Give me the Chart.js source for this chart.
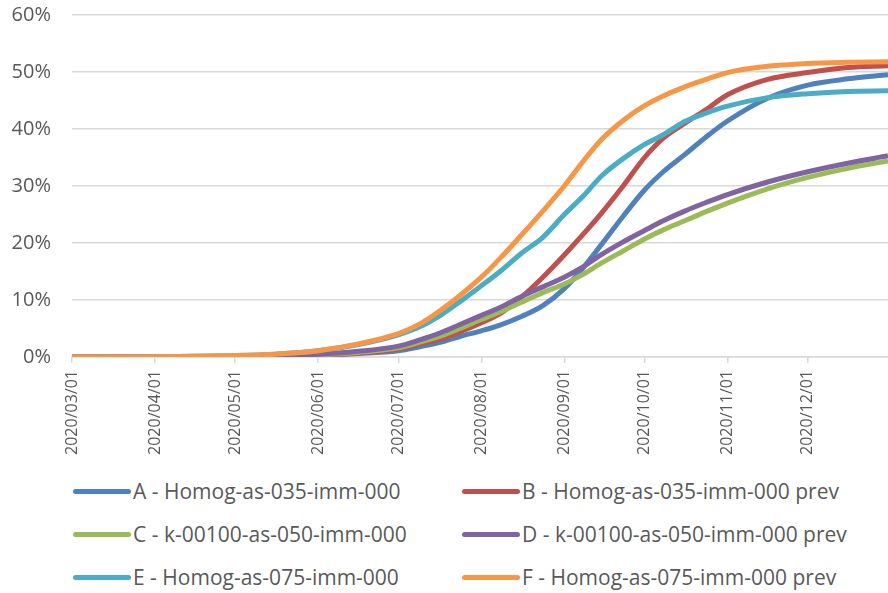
<!DOCTYPE html>
<html>
<head>
<meta charset="utf-8">
<script src="https://cdn.jsdelivr.net/npm/chart.js@4"></script>
<style>
  html, body { margin: 0; padding: 0; background: #fff; }
  body { width: 888px; height: 593px; overflow: hidden; font-family: "Open Sans", sans-serif; }
  #wrap { position: relative; width: 888px; height: 465px; }
  #inner { position: absolute; left: 0; top: -18px; width: 888px; height: 483px; }
  #legend { position: relative; width: 888px; height: 128px; }
  .item { position: absolute; display: flex; align-items: center; font-size: 21px; color: #595959; white-space: nowrap; }
  .swatch { width: 58px; height: 5px; border-radius: 3px; margin-right: 2px; }
</style>
</head>
<body>
<div id="wrap"><div id="inner"><canvas id="chart"></canvas></div></div>
<div id="legend"></div>
<script>
// days since 2020/03/01
const days = [0, 31, 61, 76, 92, 107, 122, 130, 138, 145, 153, 160, 168, 176, 184, 191, 198, 206, 214, 221, 229, 237, 245, 260, 275, 290, 305];

const seriesA = [0, 0, 0.05, 0.1, 0.3, 0.6, 1.1, 1.8, 2.6, 3.6, 4.6, 5.6, 7.1, 9.0, 12.0, 15.6, 19.8, 24.7, 29.3, 32.5, 35.5, 38.6, 41.4, 45.4, 47.7, 48.8, 49.5];
const seriesB = [0, 0, 0.05, 0.1, 0.3, 0.7, 1.4, 2.3, 3.2, 4.4, 6.0, 7.6, 10.5, 14.0, 17.9, 21.5, 25.3, 30.0, 35.0, 38.4, 41.0, 43.4, 46.0, 48.7, 49.9, 50.8, 51.1];
const seriesC = [0, 0, 0.05, 0.15, 0.35, 0.8, 1.6, 2.6, 3.7, 5.0, 6.6, 7.9, 9.6, 11.3, 12.8, 14.5, 16.5, 18.6, 20.7, 22.3, 23.9, 25.5, 27.0, 29.5, 31.5, 33.1, 34.4];
const seriesD = [0, 0, 0.1, 0.2, 0.5, 1.0, 1.9, 3.0, 4.3, 5.7, 7.3, 8.7, 10.6, 12.3, 14.0, 15.8, 18.0, 20.2, 22.2, 23.9, 25.6, 27.1, 28.5, 30.7, 32.5, 34.0, 35.3];
const seriesE = [0, 0.05, 0.25, 0.5, 1.1, 2.2, 3.9, 5.3, 7.4, 9.7, 12.5, 15.0, 18.2, 21.0, 25.0, 28.2, 31.8, 34.8, 37.3, 39.0, 41.3, 42.8, 44.0, 45.5, 46.2, 46.6, 46.7];
const seriesF = [0, 0.05, 0.25, 0.5, 1.1, 2.3, 4.1, 5.8, 8.3, 10.8, 14.0, 17.3, 21.4, 25.6, 30.0, 34.3, 38.2, 41.5, 44.1, 45.8, 47.4, 48.7, 49.9, 51.0, 51.5, 51.7, 51.8];

const names = [
  "A - Homog-as-035-imm-000",
  "B - Homog-as-035-imm-000 prev",
  "C - k-00100-as-050-imm-000",
  "D - k-00100-as-050-imm-000 prev",
  "E - Homog-as-075-imm-000",
  "F - Homog-as-075-imm-000 prev"
];
const colors = ["#4F81BD", "#C0504D", "#9BBB59", "#8064A2", "#4BACC6", "#F79646"];

// month starts (days since 2020/03/01) and their labels
const tickDays = [0, 31, 61, 92, 122, 153, 184, 214, 245, 275];
const tickLabels = ["2020/03/01", "2020/04/01", "2020/05/01", "2020/06/01", "2020/07/01",
  "2020/08/01", "2020/09/01", "2020/10/01", "2020/11/01", "2020/12/01"];
const yTicks = [0, 10, 20, 30, 40, 50, 60];

const allSeries = [seriesA, seriesB, seriesC, seriesD, seriesE, seriesF];

const datasets = allSeries.map((vals, i) => ({
  label: names[i],
  data: vals.map((v, j) => ({ x: days[j], y: v })),
  borderColor: colors[i],
  backgroundColor: colors[i],
  borderWidth: 5,
  pointRadius: 0,
  cubicInterpolationMode: "monotone",
  order: allSeries.length - i
}));

const gray = "#595959";
const gridGray = "#d9d9d9";

new Chart(document.getElementById("chart"), {
  type: "line",
  data: { datasets },
  options: {
    responsive: true,
    maintainAspectRatio: false,
    animation: false,
    plugins: {
      legend: { display: false },
      tooltip: { enabled: false }
    },
    scales: {
      x: {
        type: "linear",
        min: 0,
        max: 305,
        afterBuildTicks: (scale) => {
          scale.ticks = tickDays.map((d) => ({ value: d }));
        },
        afterFit: (scale) => { scale.height = 108; },
        ticks: {
          autoSkip: false,
          minRotation: 90,
          maxRotation: 90,
          padding: 7,
          color: gray,
          font: { family: "Open Sans", size: 16 },
          callback: (v) => tickLabels[tickDays.indexOf(v)]
        },
        grid: {
          drawOnChartArea: false,
          drawTicks: true,
          tickLength: 6,
          color: gridGray,
          lineWidth: 1.5
        },
        border: { display: true, color: gridGray, width: 1.5 }
      },
      y: {
        min: 0,
        max: 60,
        afterBuildTicks: (scale) => {
          scale.ticks = yTicks.map((v) => ({ value: v }));
        },
        afterFit: (scale) => { scale.width = 72; },
        ticks: {
          padding: 21,
          color: gray,
          font: { family: "Open Sans", size: 20 },
          callback: (v) => v + "%"
        },
        grid: { color: gridGray, lineWidth: 1.5, drawTicks: false },
        border: { display: false }
      }
    }
  }
});

// legend in two columns, like the original
const legend = document.getElementById("legend");
const colX = [73, 462];
const rowY = [26, 69, 112];
names.forEach((name, i) => {
  const item = document.createElement("div");
  item.className = "item";
  item.style.left = colX[i % 2] + "px";
  item.style.top = (rowY[Math.floor(i / 2)] - 15) + "px";
  item.style.height = "30px";
  const sw = document.createElement("span");
  sw.className = "swatch";
  sw.style.background = colors[i];
  const tx = document.createElement("span");
  tx.textContent = name;
  item.appendChild(sw);
  item.appendChild(tx);
  legend.appendChild(item);
});
</script>
</body>
</html>
